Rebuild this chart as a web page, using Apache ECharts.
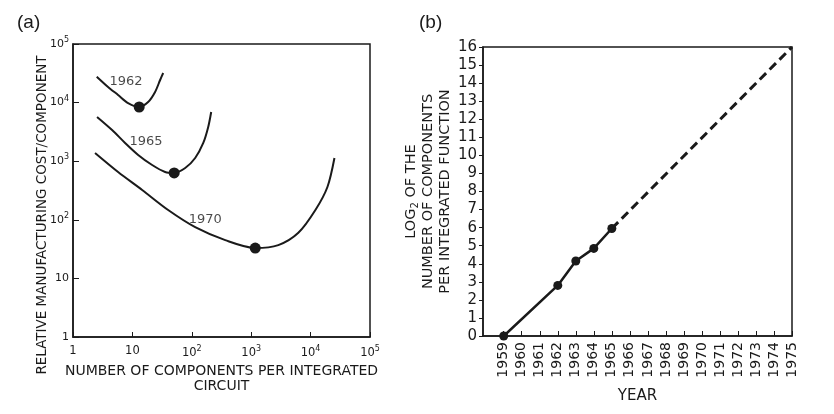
<!DOCTYPE html>
<html>
<head>
<meta charset="utf-8">
<script src="https://cdn.jsdelivr.net/npm/echarts@6/dist/echarts.min.js"></script>
<style>
  html, body { margin: 0; padding: 0; background: #fff; }
  #chart { width: 834px; height: 414px; }
</style>
</head>
<body>
<div id="chart"></div>
<script>
// (a) cost curves
let comp1962 = [2.51, 3.89, 5.74, 8.46, 13, 18.4, 24.1, 29.3, 33];
let cost1962 = [27700, 18500, 13500, 9840, 8410, 10230, 15200, 24300, 32000];
let comp1965 = [2.54, 4.55, 7.53, 12.5, 21.5, 35.6, 50.5, 77.4, 114, 156, 189, 212];
let cost1965 = [5680, 3400, 2050, 1280, 861, 654, 630, 766, 1135, 2050, 3840, 6920];
let comp1970 = [2.35, 5.74, 14.6, 40, 114, 366, 1170, 2860, 6220, 12050, 19200, 25200];
let cost1970 = [1380, 654, 323, 147, 75, 45, 33, 37, 60, 147, 363, 1135];
let minComp = [13, 50.5, 1170];
let minCost = [8410, 630, 33];
let curveNames = ['1962', '1965', '1970'];
let curveLabelComp = [7.8, 17, 168];
let curveLabelCost = [22500, 2130, 99];

// (b) log2 of components per year
let years = [1959, 1962, 1963, 1964, 1965];
let log2Comp = [0, 2.8, 4.15, 4.85, 5.95];
let projYears = [1965, 1975];
let projLog2 = [5.95, 16];
let yearTicks = [];
for (let y = 1959; y <= 1975; y++) yearTicks.push(y);

let diagram = document.getElementById("chart");
let myChart = echarts.init(diagram);

let ink = '#1a1a1a';
let font = 'DejaVu Sans';

function pairs(xs, ys) {
    return xs.map((x, i) => [x, ys[i]]);
}

function powLabel(v) {
    let e = Math.round(Math.log10(v));
    if (e === 0) return '1';
    if (e === 1) return '10';
    return '10{s|' + e + '}';
}

let powRich = {
    s: { fontSize: 8, fontFamily: font, color: ink, padding: [0, 0, 8, 0] }
};

let curveStyle = { color: ink, width: 2 };

let option = {
    animation: false,
    backgroundColor: '#fff',
    textStyle: { fontFamily: font, color: ink },
    graphic: [
        { type: 'text', left: 17, top: 13, style: { text: '(a)', font: '19px "Liberation Sans"', fill: ink } },
        { type: 'text', left: 419, top: 13, style: { text: '(b)', font: '19px "Liberation Sans"', fill: ink } },
        {
            type: 'text', x: 42, y: 215, rotation: Math.PI / 2,
            style: {
                text: 'RELATIVE MANUFACTURING COST/COMPONENT',
                font: '13.5px "DejaVu Sans"', fill: ink, align: 'center', verticalAlign: 'middle'
            }
        }
    ],
    grid: [
        { left: 73, top: 44, width: 297, height: 293, show: true, borderColor: ink, borderWidth: 1.5 },
        { left: 483, top: 47, width: 309, height: 289, show: true, borderColor: ink, borderWidth: 1.5 }
    ],
    xAxis: [
        {
            gridIndex: 0,
            type: 'log',
            logBase: 10,
            min: 1,
            max: 100000,
            splitLine: { show: false },
            axisLine: { lineStyle: { color: ink, width: 1.5 } },
            axisTick: { inside: true, length: 5, lineStyle: { color: ink } },
            minorTick: { show: false },
            axisLabel: { formatter: powLabel, rich: powRich, fontSize: 11.5, color: ink, margin: 8 },
            name: 'NUMBER OF COMPONENTS PER INTEGRATED\nCIRCUIT',
            nameLocation: 'middle',
            nameGap: 25,
            nameTextStyle: { fontSize: 14, lineHeight: 15, color: ink }
        },
        {
            gridIndex: 1,
            type: 'value',
            min: 1957.85,
            max: 1975,
            splitLine: { show: false },
            axisLine: { lineStyle: { color: ink, width: 1.5 } },
            axisTick: { inside: true, length: 5, customValues: yearTicks, lineStyle: { color: ink } },
            axisLabel: {
                customValues: yearTicks, rotate: 90, fontSize: 14, color: ink, margin: 6,
                formatter: v => String(v)
            },
            name: 'YEAR',
            nameLocation: 'middle',
            nameGap: 53,
            nameTextStyle: { fontSize: 15, color: ink }
        }
    ],
    yAxis: [
        {
            gridIndex: 0,
            type: 'log',
            logBase: 10,
            min: 1,
            max: 100000,
            splitLine: { show: false },
            axisLine: { lineStyle: { color: ink, width: 1.5 } },
            axisTick: { inside: true, length: 6, lineStyle: { color: ink } },
            minorTick: { show: false },
            axisLabel: { formatter: powLabel, rich: powRich, fontSize: 11, color: ink, margin: 4 }
        },
        {
            gridIndex: 1,
            type: 'value',
            min: 0,
            max: 16,
            interval: 1,
            splitLine: { show: false },
            axisLine: { lineStyle: { color: ink, width: 1.5 } },
            axisTick: { inside: false, length: 4, lineStyle: { color: ink } },
            axisLabel: { fontSize: 15, color: ink, margin: 6 },
            name: 'LOG{sub|2} OF THE\nNUMBER OF COMPONENTS\nPER INTEGRATED FUNCTION',
            nameLocation: 'middle',
            nameGap: 29,
            nameTextStyle: {
                fontSize: 14.5, lineHeight: 17, color: ink,
                rich: { sub: { fontSize: 10, color: ink, padding: [7, 0, 0, 0] } }
            }
        }
    ],
    series: [
        {
            type: 'line', xAxisIndex: 0, yAxisIndex: 0, smooth: 0.3,
            data: pairs(comp1962, cost1962), showSymbol: false, lineStyle: curveStyle
        },
        {
            type: 'line', xAxisIndex: 0, yAxisIndex: 0, smooth: 0.3,
            data: pairs(comp1965, cost1965), showSymbol: false, lineStyle: curveStyle
        },
        {
            type: 'line', xAxisIndex: 0, yAxisIndex: 0, smooth: 0.3,
            data: pairs(comp1970, cost1970), showSymbol: false, lineStyle: curveStyle
        },
        {
            type: 'scatter', xAxisIndex: 0, yAxisIndex: 0,
            data: pairs(minComp, minCost), symbolSize: 11, itemStyle: { color: ink, opacity: 1 }
        },
        {
            type: 'scatter', xAxisIndex: 0, yAxisIndex: 0, symbolSize: 0,
            data: curveNames.map((n, i) => ({ name: n, value: [curveLabelComp[i], curveLabelCost[i]] })),
            label: { show: true, position: 'inside', formatter: '{b}', fontSize: 13, color: ink }
        },
        {
            type: 'line', xAxisIndex: 1, yAxisIndex: 1,
            data: pairs(years, log2Comp),
            symbol: 'circle', symbolSize: 9,
            itemStyle: { color: ink, opacity: 1 },
            lineStyle: { color: ink, width: 2.5 }
        },
        {
            type: 'line', xAxisIndex: 1, yAxisIndex: 1,
            data: pairs(projYears, projLog2), showSymbol: false,
            lineStyle: { color: ink, width: 3, type: [9, 5] }
        }
    ]
};

myChart.setOption(option);
</script>
</body>
</html>
